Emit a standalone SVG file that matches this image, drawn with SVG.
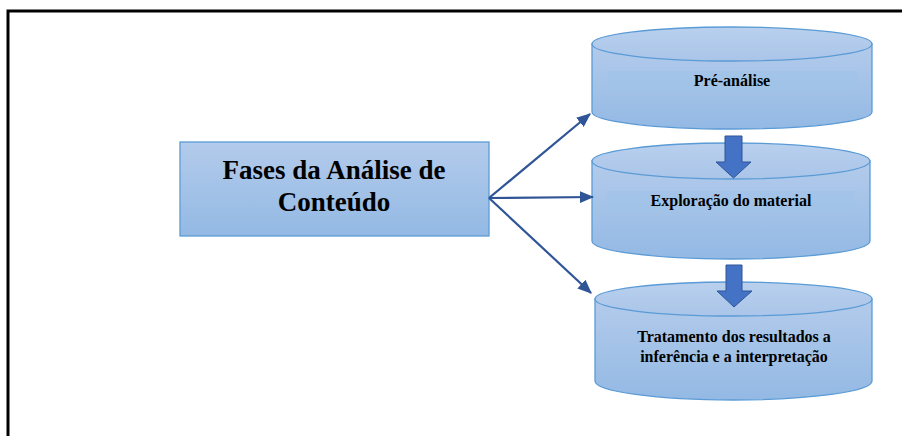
<svg xmlns="http://www.w3.org/2000/svg" width="902" height="436" viewBox="0 0 902 436">
<defs>
<linearGradient id="gBody" x1="0" y1="0" x2="0" y2="1">
<stop offset="0" stop-color="#b3cbeb"/>
<stop offset="1" stop-color="#93b9e4"/>
</linearGradient>
<linearGradient id="gTop" x1="0" y1="0" x2="0" y2="1">
<stop offset="0" stop-color="#b9d0ee"/>
<stop offset="1" stop-color="#aac5e9"/>
</linearGradient>
<marker id="ah" viewBox="0 0 12 10" refX="11" refY="5" markerWidth="6.5" markerHeight="5.5" orient="auto" markerUnits="strokeWidth">
<path d="M0,0 L12,5 L0,10 z" fill="#2f5597"/>
</marker>
</defs>
<style>
.body{fill:url(#gBody);stroke:#5b9bd5;stroke-width:1.3}
.top{fill:url(#gTop);stroke:#5b9bd5;stroke-width:1.3}
.band{fill:#9ec3e8;opacity:0.5}
.lbl{font-family:"Liberation Serif","Times New Roman",serif;font-weight:bold;font-size:16px;fill:#000;text-anchor:middle}
.big{font-family:"Liberation Serif","Times New Roman",serif;font-weight:bold;font-size:27px;fill:#000;text-anchor:middle}
.conn{stroke:#2f5597;stroke-width:2.2;fill:none;marker-end:url(#ah)}
.block{fill:#4472c4;stroke:#2f5597;stroke-width:1}
.frame{stroke:#000;stroke-width:3;fill:none}
</style>
<rect width="902" height="436" fill="#fff"/>
<path class="frame" d="M8,436 L8,11 L902,11"/>

<g id="main">
<rect x="180" y="142" width="309" height="94" class="body"/>
<text class="big" x="334" y="179">Fases da Análise de</text>
<text class="big" x="334" y="211">Conteúdo</text>
</g>

<g id="cyl1">
<path class="body" d="M592,44 L592,112 A140,17 0 0 0 872,112 L872,44 Z"/>
<ellipse class="top" cx="732" cy="44" rx="140" ry="17"/>
<rect class="band" x="608" y="71" width="249" height="20"/>
<text class="lbl" x="732" y="86">Pré-análise</text>
</g>

<g id="cyl2">
<path class="body" d="M592,161 L592,241 A139,18 0 0 0 870,241 L870,161 Z"/>
<ellipse class="top" cx="731" cy="161" rx="139" ry="18"/>
<rect class="band" x="607" y="191" width="248" height="20"/>
<text class="lbl" x="731" y="206">Exploração do material</text>
</g>

<g id="cyl3">
<path class="body" d="M595,299 L595,381 A138.5,19 0 0 0 872,381 L872,299 Z"/>
<ellipse class="top" cx="733.5" cy="299" rx="138.5" ry="17"/>
<text class="lbl" x="734" y="342">Tratamento dos resultados a</text>
<text class="lbl" x="734" y="362">inferência e a interpretação</text>
</g>

<g id="connectors">
<line class="conn" x1="489" y1="198" x2="590" y2="114"/>
<line class="conn" x1="489" y1="198" x2="593" y2="197"/>
<line class="conn" x1="489" y1="198" x2="591" y2="293"/>
<path class="block" d="M725,136 L742,136 L742,162 L751,162 L733.5,178 L716,162 L725,162 Z"/>
<path class="block" d="M726,265 L742,265 L742,291 L752,291 L734,307 L717,291 L726,291 Z"/>
</g>
</svg>
